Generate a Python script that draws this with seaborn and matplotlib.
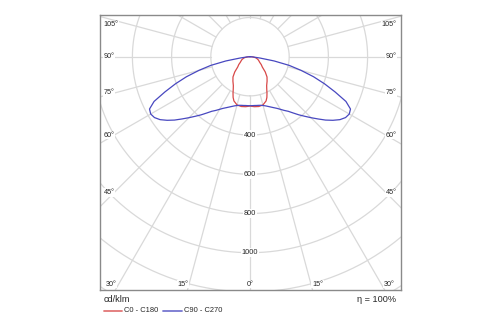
import numpy as np
import pandas as pd
import matplotlib
matplotlib.use("Agg")
import matplotlib.pyplot as plt
from matplotlib.lines import Line2D
import seaborn as sns

# Luminous intensity (cd/klm) against gamma angle (degrees from nadir)
gamma_c0 = [0, 5, 10, 15, 20, 22.5, 25, 27.5, 30, 35, 40, 45, 50, 55, 60, 65, 70, 75, 80, 85, 90]
intensity_c0 = [252, 256, 258, 255, 240, 225, 205, 185, 170, 152, 135, 110, 82, 70, 57, 50, 44, 36, 28, 15, 0]

gamma_c90 = [0, 2.5, 5, 7.5, 10, 12.5, 15, 17.5, 20, 22.5, 25, 27.5, 30, 32.5, 35, 37.5,
             40, 42.5, 45, 47.5, 50, 52.5, 55, 57.5, 60, 62.5, 65, 67.5, 70, 72.5, 75,
             77.5, 80, 82.5, 85, 87.5, 90]
intensity_c90 = [250, 250, 250, 251, 252, 254, 258, 263, 270, 278, 287, 297, 310, 325, 340, 362,
                 387, 412, 440, 470, 503, 533, 560, 578, 585, 578, 540, 470, 405, 340, 270,
                 205, 125, 50, 15, 5, 0]

ring_values = [200, 400, 600, 800, 1000, 1200, 1400]
ring_labels = [400, 600, 800, 1000]
series_names = ["C0 - C180", "C90 - C270"]
series_colors = ["#d84848", "#4848c0"]

sns.set_style("white")
plt.rcParams["font.family"] = ["Liberation Sans", "DejaVu Sans"]
TXT = "#262626"
GRID = "#d9d9d9"

W, H = 500, 325
fig = plt.figure(figsize=(W / 100, H / 100), dpi=100)
ax = fig.add_axes([100 / W, 1 - 290 / H, 301 / W, 275 / H])

# pole of the diagram and scale (px per cd/klm)
cx, cy = 250, 56.7
s = 0.196
ax.set_xlim((100 - cx) / s, (401 - cx) / s)
ax.set_ylim(-(290 - cy) / s, (cy - 15) / s)
ax.set_xticks([])
ax.set_yticks([])
for sp in ax.spines.values():
    sp.set_color("#8a8a8a")
    sp.set_linewidth(1.0)

# polar grid: rings and 15-degree spokes outside the first ring
t = np.linspace(0, 2 * np.pi, 721)
for r in ring_values:
    ax.plot(r * np.sin(t), -r * np.cos(t), color=GRID, lw=0.9, zorder=1)
for a in range(0, 360, 15):
    th = np.radians(a)
    ax.plot([200 * np.sin(th), 1600 * np.sin(th)], [-200 * np.cos(th), -1600 * np.cos(th)],
            color=GRID, lw=0.9, zorder=1)
for r in ring_labels:
    ax.text(0, -r, str(r), ha="center", va="center", fontsize=5.3, color=TXT, zorder=3,
            bbox=dict(boxstyle="square,pad=0.15", fc="white", ec="none"))


def half_plane_curve(g, i):
    g = np.radians(np.asarray(g, dtype=float))
    i = np.asarray(i, dtype=float)
    # left half (C180 / C270) then right half (C0 / C90)
    xl, yl = -i[::-1] * np.sin(g[::-1]), -i[::-1] * np.cos(g[::-1])
    xr, yr = i * np.sin(g), -i * np.cos(g)
    return pd.DataFrame({"x": np.concatenate([xl, xr[1:]]),
                         "y": np.concatenate([yl, yr[1:]])})


for (g, i), name, col in zip([(gamma_c0, intensity_c0), (gamma_c90, intensity_c90)],
                             series_names, series_colors):
    df = half_plane_curve(g, i)
    sns.lineplot(data=df, x="x", y="y", sort=False, estimator=None, color=col,
                 lw=0.9, ax=ax, zorder=4)
ax.set_xlabel("")
ax.set_ylabel("")


def fx(px):
    return px / W


def fy(py):
    return 1 - py / H


box = dict(boxstyle="square,pad=0.1", fc="white", ec="none")
side_labels = [("105°", 25), ("90°", 56.7), ("75°", 92.3), ("60°", 135), ("45°", 192.7)]
for lab, py in side_labels:
    fig.text(fx(103.5), fy(py), lab, ha="left", va="center", fontsize=5.2, color=TXT, bbox=box)
    fig.text(fx(396.5), fy(py), lab, ha="right", va="center", fontsize=5.2, color=TXT, bbox=box)
bottom_labels = [("30°", 111), ("15°", 183), ("0°", 250), ("15°", 317.5), ("30°", 389)]
for lab, px in bottom_labels:
    fig.text(fx(px), fy(284), lab, ha="center", va="center", fontsize=5.2, color=TXT, bbox=box)

fig.text(fx(104), fy(300), "cd/klm", ha="left", va="center", fontsize=6.6, color=TXT)
fig.text(fx(396), fy(299.5), "η = 100%", ha="right", va="center", fontsize=6.6, color=TXT)

# legend row
legend_items = [(104, 122, 124.5), (163, 182, 184.5)]
for (x0, x1, xt), name, col in zip(legend_items, series_names, series_colors):
    fig.add_artist(Line2D([fx(x0), fx(x1)], [fy(311), fy(311)], color=col, lw=1.3, alpha=0.75))
    fig.text(fx(xt), fy(311), name, ha="left", va="center", fontsize=5.4, color=TXT)

fig.savefig("out.png", dpi=100)
